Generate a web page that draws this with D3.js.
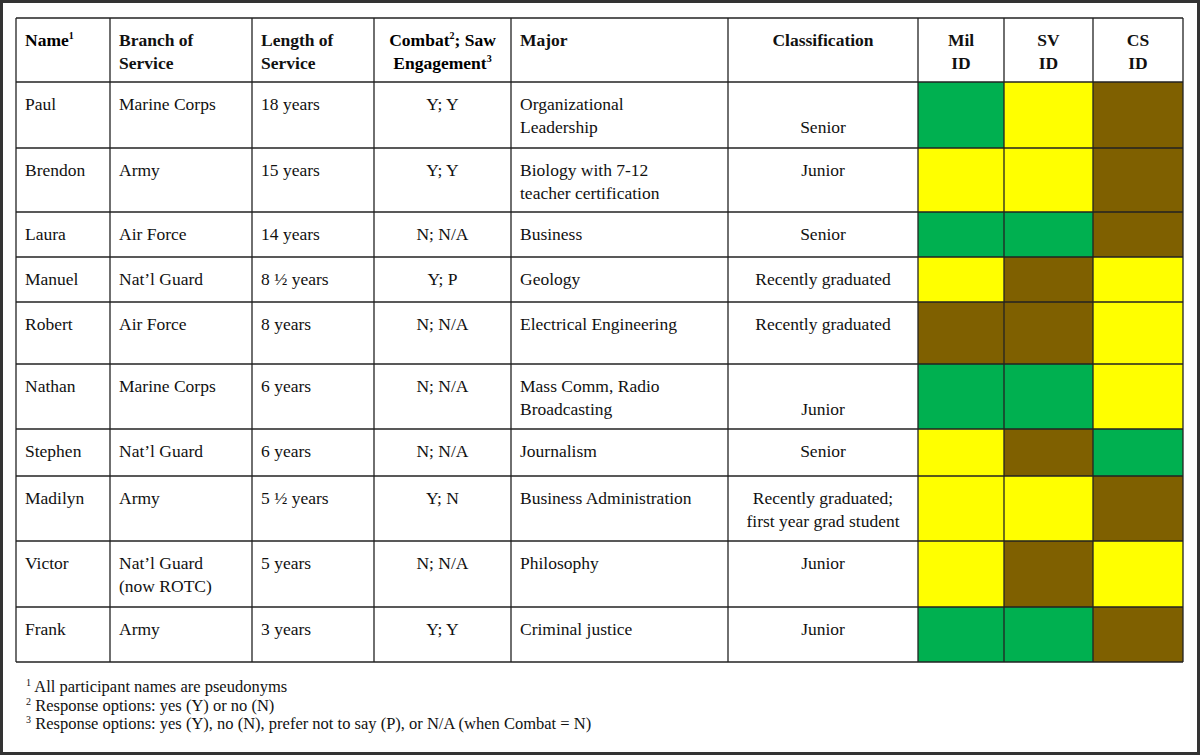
<!DOCTYPE html>
<html><head><meta charset="utf-8">
<script src="https://cdn.jsdelivr.net/npm/d3@7"></script>
<style>body{margin:0;background:#fff}</style>
</head><body>
<script>
// data
var names = ["Paul","Brendon","Laura","Manuel","Robert","Nathan","Stephen","Madilyn","Victor","Frank"];
var branches = ["Marine Corps","Army","Air Force","Nat\u2019l Guard","Air Force","Marine Corps","Nat\u2019l Guard","Army","Nat\u2019l Guard\n(now ROTC)","Army"];
var lengths = ["18 years","15 years","14 years","8 \u00bd years","8 years","6 years","6 years","5 \u00bd years","5 years","3 years"];
var combat = ["Y; Y","Y; Y","N; N/A","Y; P","N; N/A","N; N/A","N; N/A","Y; N","N; N/A","Y; Y"];
var majors = ["Organizational\nLeadership","Biology with 7-12\nteacher certification","Business","Geology","Electrical Engineering","Mass Comm, Radio\nBroadcasting","Journalism","Business Administration","Philosophy","Criminal justice"];
var classes = ["\nSenior","Junior","Senior","Recently graduated","Recently graduated","\nJunior","Senior","Recently graduated;\nfirst year grad student","Junior","Junior"];
var idCols = ["Mil\nID","SV\nID","CS\nID"];
var milId = ["G","Y","G","Y","B","G","Y","Y","Y","G"];
var svId  = ["Y","Y","G","B","B","G","B","Y","B","G"];
var csId  = ["B","B","B","Y","Y","Y","G","B","Y","B"];
var footnotes = [["1","All participant names are pseudonyms"],["2","Response options: yes (Y) or no (N)"],["3","Response options: yes (Y), no (N), prefer not to say (P), or N/A (when Combat = N)"]];

// layout
var W = 1200, H = 755;
var colW = [94,142,122,137,217,190,86,89,90];
var rowH = [64,66,64,45,45,62,65,47,65,66,55];
var left = 16, top0 = 18;
var colorMap = d3.scaleOrdinal().domain(["G","Y","B"]).range(["#00b050","#ffff00","#7f6000"]);

var colX = [left]; colW.forEach(function(w){ colX.push(colX[colX.length-1]+w); });
var rowY = [top0]; rowH.forEach(function(h){ rowY.push(rowY[rowY.length-1]+h); });

var svg = d3.select("body").append("svg").attr("width",W).attr("height",H)
  .style("font-family","'Liberation Serif','Times New Roman',serif");
svg.append("rect").attr("x",1.5).attr("y",1.5).attr("width",W-3).attr("height",H-3)
  .attr("fill","#fff").attr("stroke","#333").attr("stroke-width",3);

// heat cells
var ids = [milId, svId, csId];
ids.forEach(function(arr, c){
  svg.append("g").selectAll("rect").data(arr).enter().append("rect")
    .attr("x", colX[6+c]).attr("y", function(d,i){ return rowY[i+1]; })
    .attr("width", colW[6+c]).attr("height", function(d,i){ return rowH[i+1]; })
    .attr("fill", function(d){ return colorMap(d); });
});

function cellText(txt, c, r, bold, center){
  var lines = txt.split("\n");
  var t = svg.append("text").attr("font-size", 17.5).attr("fill","#111")
    .attr("font-weight", bold ? "bold" : "normal")
    .attr("text-anchor", center ? "middle" : "start");
  var x = center ? colX[c] + colW[c]/2 : colX[c] + 9;
  lines.forEach(function(l, k){
    t.append("tspan").attr("x", x).attr("y", rowY[r] + 28 + k*22.5).text(l);
  });
  return t;
}

// header
var hdr = ["Name","Branch of\nService","Length of\nService","","Major","Classification"].concat(idCols);
hdr.forEach(function(h, c){ if (h) cellText(h, c, 0, true, c >= 5); });
// superscripts in header
var n1 = svg.append("text").attr("font-size",17.5).attr("font-weight","bold").attr("x",colX[0]+9).attr("y",rowY[0]+28);
n1.append("tspan").text("Name");
n1.append("tspan").attr("font-size",10).attr("dy",-7).text("1");
svg.selectAll("text").filter(function(){ return this.textContent === "Name"; }).remove();
var cb = svg.append("text").attr("font-size",17.5).attr("font-weight","bold").attr("text-anchor","middle");
var cx = colX[3] + colW[3]/2;
var l1 = cb.append("tspan").attr("x",cx).attr("y",rowY[0]+28);
l1.append("tspan").text("Combat"); l1.append("tspan").attr("font-size",10).attr("dy",-7).text("2");
l1.append("tspan").attr("dy",7).text("; Saw");
var l2 = cb.append("tspan").attr("x",cx).attr("y",rowY[0]+50.5);
l2.append("tspan").text("Engagement"); l2.append("tspan").attr("font-size",10).attr("dy",-7).text("3");

// body
var cols = [names, branches, lengths, combat, majors, classes];
cols.forEach(function(arr, c){
  arr.forEach(function(v, i){ cellText(v, c, i+1, false, c === 3 || c === 5); });
});

// grid
var g = svg.append("g").attr("stroke","#222").attr("stroke-width",1.3);
colX.forEach(function(x){ g.append("line").attr("x1",x).attr("x2",x).attr("y1",rowY[0]).attr("y2",rowY[rowY.length-1]); });
rowY.forEach(function(y){ g.append("line").attr("x1",colX[0]).attr("x2",colX[colX.length-1]).attr("y1",y).attr("y2",y); });

// footnotes
footnotes.forEach(function(f, i){
  var t = svg.append("text").attr("font-size",16.5).attr("fill","#111").attr("x",26).attr("y",692 + i*18.5);
  t.append("tspan").attr("font-size",10).attr("dy",-6).text(f[0]);
  t.append("tspan").attr("dy",6).text(" " + f[1]);
});
</script>
</body></html>
